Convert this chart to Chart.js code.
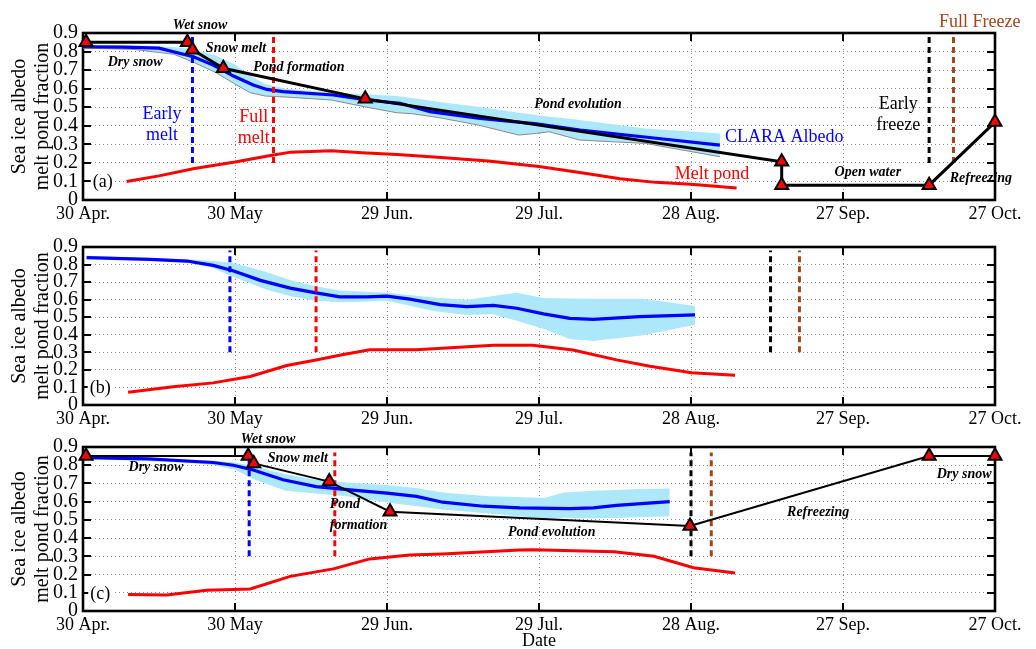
<!DOCTYPE html>
<html>
<head>
<meta charset="utf-8">
<title>Sea ice albedo and melt pond fraction</title>
<script src="https://cdn.jsdelivr.net/npm/chart.js@4/dist/chart.umd.min.js"></script>
<style>
  html, body { margin: 0; padding: 0; background: #fff; }
  #wrap { position: relative; width: 1036px; height: 649px; overflow: hidden; }
  #wrap canvas { position: absolute; left: 0; }
</style>
</head>
<body>
<div id="wrap">
  <canvas id="panelA" width="1036" height="230" style="top:0"></canvas>
  <canvas id="panelB" width="1036" height="200" style="top:230px"></canvas>
  <canvas id="panelC" width="1036" height="219" style="top:430px"></canvas>
</div>
<script>
// Axis ticks: days since 30 April
const xTickLabels = ['30 Apr.', '30 May', '29 Jun.', '29 Jul.', '28 Aug.', '27 Sep.', '27 Oct.'];
const yTickLabels = ['0', '0.1', '0.2', '0.3', '0.4', '0.5', '0.6', '0.7', '0.8', '0.9'];

// ---- Panel (a) ----
const albedoDaysA = [0, 8, 15, 21.8, 25.7, 29.7, 33.6, 36.3, 39.5, 49.4, 56, 62.6, 68.5, 78.4, 89.5, 98.1, 111.3, 125.7];
const albedoA     = [0.826, 0.824, 0.818, 0.772, 0.727, 0.668, 0.62, 0.596, 0.584, 0.566, 0.539, 0.521, 0.476, 0.44, 0.41, 0.377, 0.338, 0.296];
const bandDaysA   = [0, 10, 18, 22, 26, 30, 33, 36, 40, 49, 56, 62, 65, 70, 78, 86, 89.5, 92, 98, 111, 125.7];
const bandHighA   = [0.835, 0.832, 0.825, 0.81, 0.78, 0.73, 0.67, 0.625, 0.6, 0.58, 0.57, 0.56, 0.55, 0.53, 0.503, 0.47, 0.458, 0.45, 0.431, 0.386, 0.359];
const bandLowA    = [0.818, 0.812, 0.785, 0.74, 0.69, 0.625, 0.578, 0.56, 0.555, 0.539, 0.5, 0.47, 0.465, 0.445, 0.404, 0.35, 0.359, 0.368, 0.323, 0.305, 0.233];
const pondDaysA   = [8.6, 15, 22, 30, 37, 41, 49, 55, 62, 70, 80, 90, 100, 106, 113, 120, 129];
const pondA       = [0.1, 0.13, 0.17, 0.205, 0.24, 0.258, 0.265, 0.255, 0.245, 0.23, 0.21, 0.18, 0.14, 0.115, 0.095, 0.085, 0.065];
const stageDaysA  = [0.6, 20.6, 21.6, 27.7, 55.7, 137.9, 137.9, 167, 180];
const stageA      = [0.85, 0.85, 0.81, 0.71, 0.545, 0.206, 0.08, 0.08, 0.42];
const eventDaysA  = [21.6, 37.6, 167, 171.8];   // early melt, full melt, early freeze, full freeze
const eventSpanA  = [0.2, 0.89];

// ---- Panel (b) ----
const albedoDaysB = [0.7, 13.2, 20.5, 25.7, 29.6, 35, 40.9, 46, 50.7, 56, 60, 64.5, 70.5, 75.7, 81, 85.6, 90.9, 96.1, 100.7, 109.9, 120.8];
const albedoB     = [0.84, 0.83, 0.82, 0.795, 0.765, 0.71, 0.666, 0.639, 0.616, 0.616, 0.62, 0.603, 0.572, 0.56, 0.567, 0.551, 0.519, 0.493, 0.488, 0.503, 0.513];
const bandDaysB   = [0.7, 13, 20.5, 25.7, 29.6, 36.3, 41, 46, 50.7, 56, 60, 69.2, 75.7, 81, 82.3, 85.6, 90.9, 96.1, 100.7, 110.6, 120.8];
const bandHighB   = [0.85, 0.838, 0.83, 0.82, 0.81, 0.756, 0.71, 0.675, 0.652, 0.645, 0.639, 0.612, 0.6, 0.621, 0.627, 0.64, 0.609, 0.606, 0.605, 0.605, 0.564];
const bandLowB    = [0.835, 0.825, 0.812, 0.78, 0.73, 0.657, 0.62, 0.594, 0.585, 0.59, 0.594, 0.535, 0.513, 0.517, 0.506, 0.48, 0.434, 0.376, 0.365, 0.398, 0.457];
const pondDaysB   = [8.9, 17.8, 25.7, 33, 40.2, 46, 51.4, 56.6, 65.8, 81, 88.8, 96.7, 105.3, 111.9, 120.1, 128.7];
const pondB       = [0.072, 0.104, 0.126, 0.162, 0.225, 0.256, 0.288, 0.315, 0.315, 0.34, 0.34, 0.313, 0.257, 0.221, 0.184, 0.17];
const eventDaysB  = [29, 46, 135.7, 141.4];
const eventSpanB  = [0.3, 0.88];

// ---- Panel (c) ----
const albedoDaysC = [0.7, 13, 25.7, 29.7, 33.6, 39.5, 46, 52.7, 60, 65.8, 71, 79, 86.2, 96.1, 100.7, 105.3, 115.8];
const albedoC     = [0.842, 0.835, 0.815, 0.8, 0.774, 0.72, 0.683, 0.665, 0.647, 0.629, 0.597, 0.575, 0.566, 0.562, 0.566, 0.58, 0.6];
const bandDaysC   = [0.7, 20, 26, 30, 34, 40, 46, 52, 60, 66, 71, 80, 86, 91, 95, 101, 110, 115.8];
const bandHighC   = [0.85, 0.83, 0.825, 0.815, 0.795, 0.75, 0.72, 0.705, 0.692, 0.674, 0.65, 0.63, 0.625, 0.62, 0.65, 0.66, 0.67, 0.672];
const bandLowC    = [0.835, 0.815, 0.8, 0.775, 0.72, 0.66, 0.645, 0.63, 0.595, 0.575, 0.557, 0.535, 0.52, 0.511, 0.51, 0.508, 0.515, 0.52];
const pondDaysC   = [8.9, 16.5, 24.4, 33, 40.9, 49.4, 56.6, 64.5, 71, 86.2, 88.8, 104.8, 112.7, 120.5, 128.7];
const pondC       = [0.09, 0.088, 0.114, 0.121, 0.19, 0.231, 0.286, 0.307, 0.313, 0.335, 0.336, 0.325, 0.3, 0.237, 0.208];
const stageDaysC  = [0.6, 32.6, 33.7, 48.6, 60.6, 119.8, 167, 180];
const stageC      = [0.85, 0.85, 0.81, 0.71, 0.545, 0.466, 0.85, 0.85];
const eventDaysC  = [32.8, 49.7, 120, 124];
const eventSpanC  = [0.3, 0.87];

// ---- Styling ----
const SERIF = '"Liberation Serif", "Times New Roman", Times, serif';
const BAND_FILL = 'rgb(172,232,250)';
const EVENT_COLORS = ['#0000ff', '#ff0000', '#000000', '#a3441b'];
const BROWN = '#a3441b';

function pts(xs, ys) { return xs.map((x, i) => ({ x: x, y: ys[i] })); }

// Frame, inward tick marks, axis title and text notes
function decorations(notes, extra) {
  return {
    id: 'decorations',
    beforeDatasetsDraw(chart) {
      const { ctx, chartArea: a, scales } = chart;
      ctx.save();
      ctx.strokeStyle = '#000';
      ctx.lineWidth = 2;
      ctx.beginPath();
      scales.y.ticks.forEach(t => {
        const y = Math.round(scales.y.getPixelForValue(t.value));
        ctx.moveTo(a.left, y); ctx.lineTo(a.left + 8, y);
        ctx.moveTo(a.right, y); ctx.lineTo(a.right - 8, y);
      });
      scales.x.ticks.forEach(t => {
        const x = Math.round(scales.x.getPixelForValue(t.value));
        ctx.moveTo(x, a.bottom); ctx.lineTo(x, a.bottom - 8);
        ctx.moveTo(x, a.top); ctx.lineTo(x, a.top + 8);
      });
      ctx.stroke();
      ctx.lineWidth = 2.6;
      ctx.strokeRect(a.left, a.top, a.right - a.left, a.bottom - a.top);
      ctx.restore();
    },
    afterDraw(chart) {
      const { ctx, chartArea: a, scales } = chart;
      ctx.save();
      // y-axis title (two lines, rotated)
      const midY = (a.top + a.bottom) / 2;
      ctx.fillStyle = '#000';
      ctx.font = '20px ' + SERIF;
      ctx.textAlign = 'center';
      ctx.textBaseline = 'middle';
      [['Sea ice albedo', 20], ['melt pond fraction', 42.5]].forEach(([txt, x]) => {
        ctx.save();
        ctx.translate(x, midY);
        ctx.rotate(-Math.PI / 2);
        ctx.fillText(txt, 0, 0);
        ctx.restore();
      });
      // text notes positioned in data units
      notes.forEach(n => {
        const px = scales.x.getPixelForValue(n.d);
        const py = scales.y.getPixelForValue(n.v);
        const lines = Array.isArray(n.t) ? n.t : [n.t];
        if (n.k === 'stage') ctx.font = 'italic bold 14px ' + SERIF;
        else ctx.font = '18px ' + SERIF;
        ctx.textAlign = n.align || 'center';
        ctx.textBaseline = 'middle';
        lines.forEach((ln, i) => {
          const y = py + i * 21;
          if (n.k === 'tag') {
            const w = ctx.measureText(ln).width;
            ctx.fillStyle = '#fff';
            ctx.fillRect(px - w / 2 - 2, y - 10, w + 4, 20);
          }
          ctx.fillStyle = n.c || '#000';
          ctx.fillText(ln, px, y);
        });
      });
      if (extra) extra(chart);
      ctx.restore();
    }
  };
}

function panelChart(id, p) {
  const datasets = [];
  if (p.stageDays) {
    datasets.push({
      data: pts(p.stageDays, p.stage),
      borderColor: '#000', borderWidth: p.stageWidth,
      pointStyle: 'triangle', pointRadius: 7.5,
      pointBackgroundColor: '#ff0000', pointBorderColor: '#000', pointBorderWidth: 2,
      clip: false
    });
  }
  p.eventDays.forEach((d, i) => {
    datasets.push({
      data: pts([d, d], p.eventSpan),
      borderColor: EVENT_COLORS[i], borderWidth: 3, borderDash: [6, 4], pointRadius: 0
    });
  });
  datasets.push({ data: pts(p.pondDays, p.pond), borderColor: '#ff0000', borderWidth: 3, pointRadius: 0 });
  datasets.push({ data: pts(p.albedoDays, p.albedo), borderColor: '#0000ff', borderWidth: 3.2, pointRadius: 0 });
  datasets.push({ data: pts(p.bandDays, p.bandLow), borderColor: p.bandEdge || 'rgba(0,0,0,0)', borderWidth: 1, pointRadius: 0 });
  datasets.push({ data: pts(p.bandDays, p.bandHigh), borderColor: 'rgba(0,0,0,0)', borderWidth: 1, backgroundColor: BAND_FILL, fill: '-1', pointRadius: 0 });

  const gridOpts = { color: '#8c8c8c', lineWidth: 1, drawTicks: false };
  return new Chart(document.getElementById(id), {
    type: 'line',
    data: { datasets: datasets },
    options: {
      responsive: false, animation: false, devicePixelRatio: 1, events: [],
      layout: { padding: { top: p.padTop, left: 0, right: 41, bottom: 0 } },
      plugins: { legend: { display: false }, tooltip: { enabled: false } },
      scales: {
        x: {
          type: 'linear', min: 0, max: 180,
          afterFit: s => { s.height = p.xHeight; },
          ticks: { stepSize: 30, padding: 3, color: '#000', font: { family: SERIF, size: 18 },
                   maxRotation: 0, autoSkip: false,
                   callback: v => xTickLabels[Math.round(v / 30)] },
          grid: gridOpts,
          border: { display: false, dash: [1, 3] }
        },
        y: {
          type: 'linear', min: 0, max: 0.9,
          afterFit: s => { s.width = 83; },
          ticks: { stepSize: 0.1, padding: 5, color: '#000', font: { family: SERIF, size: 20 },
                   autoSkip: false,
                   callback: v => yTickLabels[Math.round(v * 10)] },
          grid: gridOpts,
          border: { display: false, dash: [1, 3] }
        }
      }
    },
    plugins: [decorations(p.notes, p.extra)]
  });
}

panelChart('panelA', {
  padTop: 33, xHeight: 30, stageWidth: 3, bandEdge: '#8a8a8a',
  albedoDays: albedoDaysA, albedo: albedoA,
  bandDays: bandDaysA, bandHigh: bandHighA, bandLow: bandLowA,
  pondDays: pondDaysA, pond: pondA,
  stageDays: stageDaysA, stage: stageA,
  eventDays: eventDaysA, eventSpan: eventSpanA,
  notes: [
    { t: 'Wet snow', d: 23.1, v: 0.943, k: 'stage' },
    { t: 'Snow melt', d: 30.2, v: 0.819, k: 'stage' },
    { t: 'Dry snow', d: 10.3, v: 0.74, k: 'stage' },
    { t: 'Pond formation', d: 42.6, v: 0.713, k: 'stage' },
    { t: 'Pond evolution', d: 97.7, v: 0.517, k: 'stage' },
    { t: 'Open water', d: 154.9, v: 0.151, k: 'stage' },
    { t: 'Refreezing', d: 177.2, v: 0.119, k: 'stage' },
    { t: ['Early', 'melt'], d: 15.6, v: 0.463, c: '#0000ff' },
    { t: ['Full', 'melt'], d: 33.7, v: 0.447, c: '#ff0000' },
    { t: 'CLARA Albedo', d: 126.7, v: 0.339, c: '#0000ff', align: 'left' },
    { t: 'Melt pond', d: 116.8, v: 0.14, c: '#ff0000', align: 'left' },
    { t: ['Early', 'freeze'], d: 160.9, v: 0.517, c: '#000' },
    { t: 'Full Freeze', d: 177, v: 0.96, c: BROWN },
    { t: '(a)', d: 3.9, v: 0.097, k: 'tag' }
  ]
});

panelChart('panelB', {
  padTop: 9, xHeight: 25,
  albedoDays: albedoDaysB, albedo: albedoB,
  bandDays: bandDaysB, bandHigh: bandHighB, bandLow: bandLowB,
  pondDays: pondDaysB, pond: pondB,
  eventDays: eventDaysB, eventSpan: eventSpanB,
  notes: [
    { t: '(b)', d: 3.4, v: 0.096, k: 'tag' }
  ]
});

panelChart('panelC', {
  padTop: 15, xHeight: 38, stageWidth: 2,
  albedoDays: albedoDaysC, albedo: albedoC,
  bandDays: bandDaysC, bandHigh: bandHighC, bandLow: bandLowC,
  pondDays: pondDaysC, pond: pondC,
  stageDays: stageDaysC, stage: stageC,
  eventDays: eventDaysC, eventSpan: eventSpanC,
  notes: [
    { t: 'Wet snow', d: 36.5, v: 0.942, k: 'stage' },
    { t: 'Snow melt', d: 42.4, v: 0.837, k: 'stage' },
    { t: 'Dry snow', d: 14.4, v: 0.786, k: 'stage' },
    { t: ['Pond', 'formation'], d: 48.7, v: 0.587, k: 'stage', align: 'left' },
    { t: 'Pond evolution', d: 92.5, v: 0.43, k: 'stage' },
    { t: 'Refreezing', d: 145.1, v: 0.542, k: 'stage' },
    { t: 'Dry snow', d: 173.9, v: 0.75, k: 'stage' },
    { t: '(c)', d: 3.4, v: 0.09, k: 'tag' }
  ],
  extra: chart => {
    const { ctx, chartArea: a } = chart;
    ctx.font = '18px ' + SERIF;
    ctx.fillStyle = '#000';
    ctx.textAlign = 'center';
    ctx.textBaseline = 'middle';
    ctx.fillText('Date', (a.left + a.right) / 2, 211.5);
  }
});
</script>
</body>
</html>
